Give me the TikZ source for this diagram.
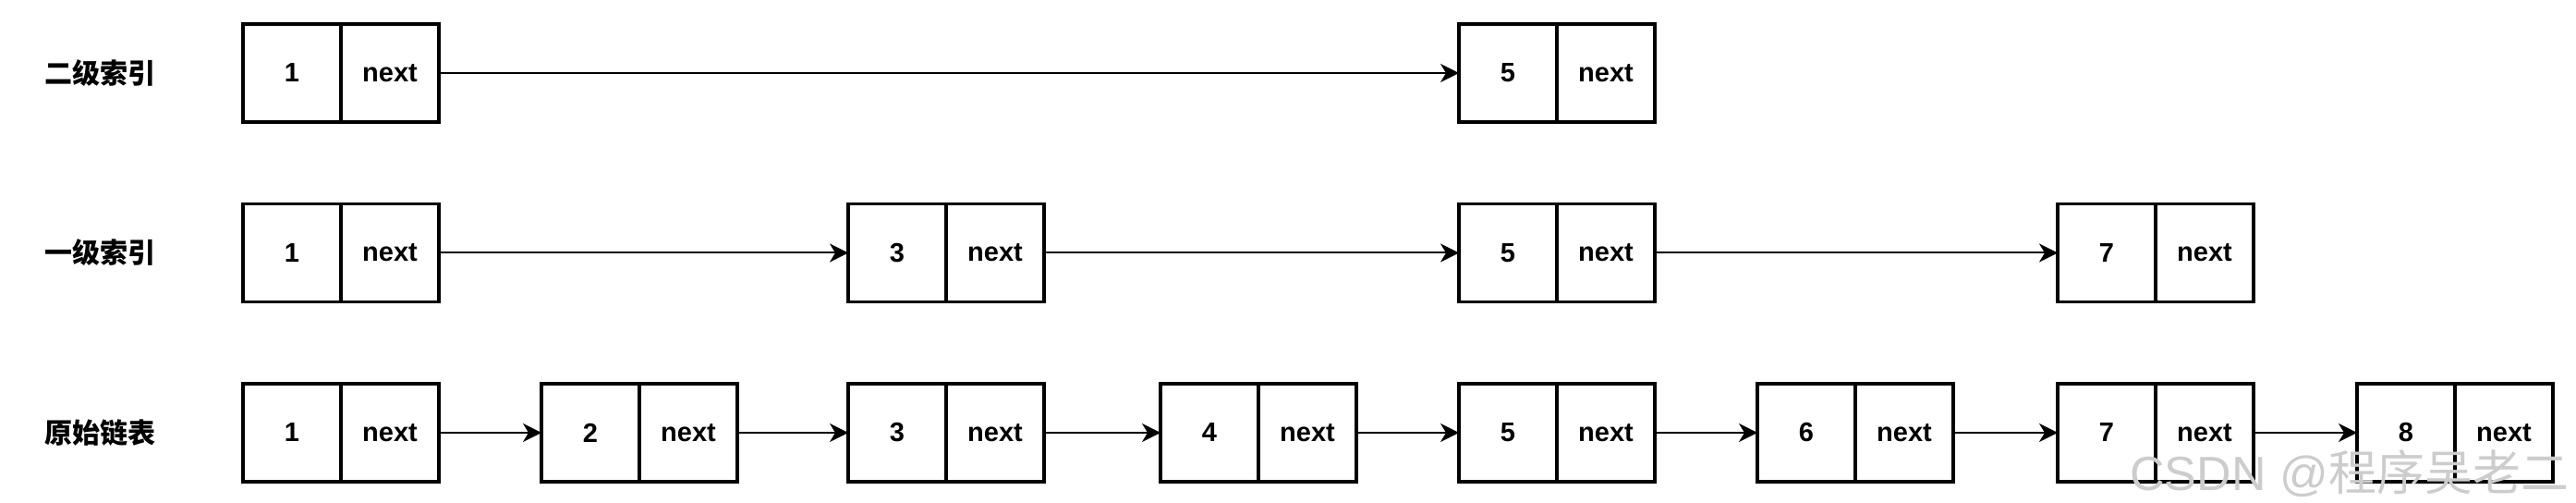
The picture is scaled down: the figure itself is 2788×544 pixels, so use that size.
\documentclass[tikz,border=0pt]{standalone}
\usepackage{fontspec}
\setmainfont{Liberation Sans}
\newfontfamily\cjk{Noto Sans CJK SC}
\usetikzlibrary{positioning, arrows.meta}

\tikzset{
  cell/.style={draw, line width=1.8pt, minimum width=53pt, minimum height=53pt,
    inner sep=0pt, outer sep=0pt, font=\fontsize{14.5}{16}\selectfont\bfseries},
  link/.style={-{Stealth[length=10pt,width=10pt,inset=3pt]}, line width=1pt},
  level/.style={font=\cjk\fontsize{15}{16}\selectfont\bfseries}
}

\begin{document}
\begin{tikzpicture}[x=0.5pt,y=-0.5pt]
\useasboundingbox (0,0) rectangle (2788,544);

% row labels
\node [level] (lab2) at (108,79) {二级索引};
\node [level] (lab1) at (108,273.5) {一级索引};
\node [level] (lab0) at (108,468) {原始链表};

% original list
\foreach \k/\x in {1/316,2/639,3/971,4/1309,5/1632,6/1955,7/2280,8/2604}
{
  \node [cell] (r\k) at (\x,468) {\k};
  \node [cell, right=0pt of r\k] (rn\k) {next};
}
\foreach \a/\b in {1/2,2/3,3/4,4/5,5/6,6/7,7/8}
  \draw [link] (rn\a) -- (r\b);

% first level index
\foreach \k/\x in {1/316,3/971,5/1632,7/2280}
{
  \node [cell] (i\k) at (\x,273.5) {\k};
  \node [cell, right=0pt of i\k] (in\k) {next};
}
\foreach \a/\b in {1/3,3/5,5/7}
  \draw [link] (in\a) -- (i\b);

% second level index
\foreach \k/\x in {1/316,5/1632}
{
  \node [cell] (s\k) at (\x,79) {\k};
  \node [cell, right=0pt of s\k] (sn\k) {next};
}
\draw [link] (sn1) -- (s5);

% watermark
\node [anchor=west, inner sep=0pt, text=gray!40, font=\fontsize{26}{28}\selectfont] (mark) at (2305,512) {CSDN @{\cjk 程序吴老二}};
\end{tikzpicture}
\end{document}
